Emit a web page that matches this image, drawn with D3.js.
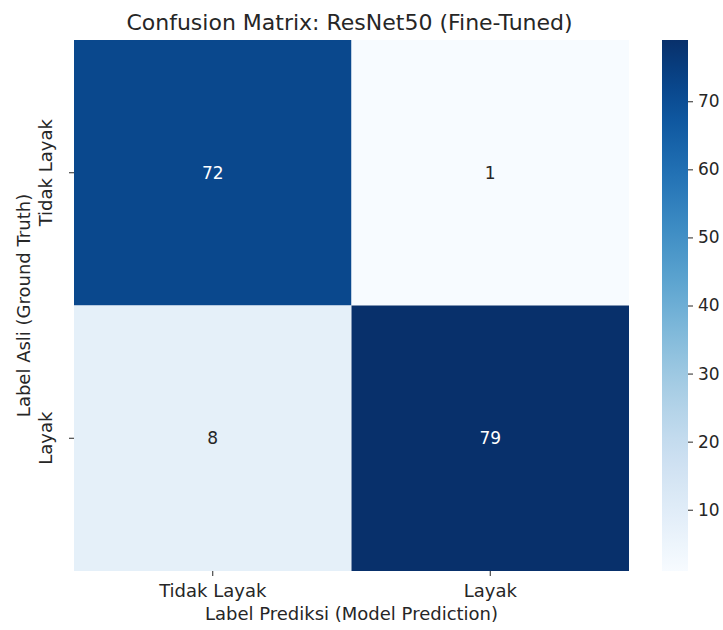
<!DOCTYPE html>
<html><head><meta charset="utf-8">
<script src="https://cdn.jsdelivr.net/npm/d3@7"></script>
<style>body{margin:0;background:#fff}text{font-family:"DejaVu Sans",sans-serif;fill:#262626}</style>
</head><body>
<svg id="c" width="723" height="630"></svg>
<script>
const categories = ["Tidak Layak", "Layak"];
const matrix = [[72, 1], [8, 79]];
const cbTicks = [10, 20, 30, 40, 50, 60, 70];
const title = "Confusion Matrix: ResNet50 (Fine-Tuned)";
const xLabel = "Label Prediksi (Model Prediction)";
const yLabel = "Label Asli (Ground Truth)";

const svg = d3.select("#c");
const L = 74, R = 629, T = 40, B = 571;
const x = d3.scaleBand().domain(categories).range([L, R]);
const y = d3.scaleBand().domain(categories).range([T, B]);
const flat = matrix.flat();
const vmin = d3.min(flat), vmax = d3.max(flat);
const color = d3.scaleSequential(d3.interpolateBlues).domain([vmin, vmax]);

const cells = [];
matrix.forEach((row, i) => row.forEach((v, j) => cells.push({r: categories[i], c: categories[j], v})));
svg.selectAll("rect.cell").data(cells).join("rect").attr("class", "cell")
  .attr("x", d => x(d.c)).attr("y", d => y(d.r))
  .attr("width", x.bandwidth()).attr("height", y.bandwidth())
  .attr("fill", d => color(d.v));
svg.selectAll("text.ann").data(cells).join("text").attr("class", "ann")
  .attr("x", d => x(d.c) + x.bandwidth() / 2).attr("y", d => y(d.r) + y.bandwidth() / 2)
  .attr("text-anchor", "middle").attr("dominant-baseline", "central")
  .style("font-size", "17px")
  .style("fill", d => (d.v - vmin) / (vmax - vmin) > 0.5 ? "#ffffff" : "#262626")
  .text(d => d.v);

// axes
const xAxis = svg.append("g").attr("transform", `translate(0,${B})`)
  .call(d3.axisBottom(x).tickSize(5).tickPadding(8));
const yAxis = svg.append("g").attr("transform", `translate(${L},0)`)
  .call(d3.axisLeft(y).tickSize(5).tickPadding(6));
[xAxis, yAxis].forEach(a => {
  a.select(".domain").remove();
  a.selectAll("line").attr("stroke", "#262626");
  a.selectAll("text").style("font-size", "18px").attr("fill", "#262626");
});
yAxis.selectAll(".tick text").attr("text-anchor", "middle").attr("dy", null)
  .attr("transform", "rotate(-90)").attr("x", 0).attr("y", -22);

svg.append("text").attr("x", (L + R) / 2 - 2).attr("y", 30).attr("text-anchor", "middle")
  .style("font-size", "22px").text(title);
svg.append("text").attr("x", (L + R) / 2).attr("y", 620).attr("text-anchor", "middle")
  .style("font-size", "18px").text(xLabel);
svg.append("text").attr("transform", `translate(30,${(T + B) / 2}) rotate(-90)`).attr("text-anchor", "middle")
  .style("font-size", "18px").text(yLabel);

// colorbar
const cbX = 662, cbW = 26;
const cy = d3.scaleLinear().domain([vmin, vmax]).range([B, T]);
const defs = svg.append("defs");
const grad = defs.append("linearGradient").attr("id", "g").attr("x1", 0).attr("y1", 1).attr("x2", 0).attr("y2", 0);
d3.range(0, 1.0001, 0.05).forEach(t => grad.append("stop").attr("offset", t).attr("stop-color", d3.interpolateBlues(t)));
svg.append("rect").attr("x", cbX).attr("y", T).attr("width", cbW).attr("height", B - T).attr("fill", "url(#g)");
const cbAxis = svg.append("g").attr("transform", `translate(${cbX + cbW},0)`)
  .call(d3.axisRight(cy).tickValues(cbTicks).tickSize(5).tickPadding(5));
cbAxis.select(".domain").remove();
cbAxis.selectAll("line").attr("stroke", "#262626");
cbAxis.selectAll("text").style("font-size", "17px").attr("fill", "#262626");
</script>
</body></html>
